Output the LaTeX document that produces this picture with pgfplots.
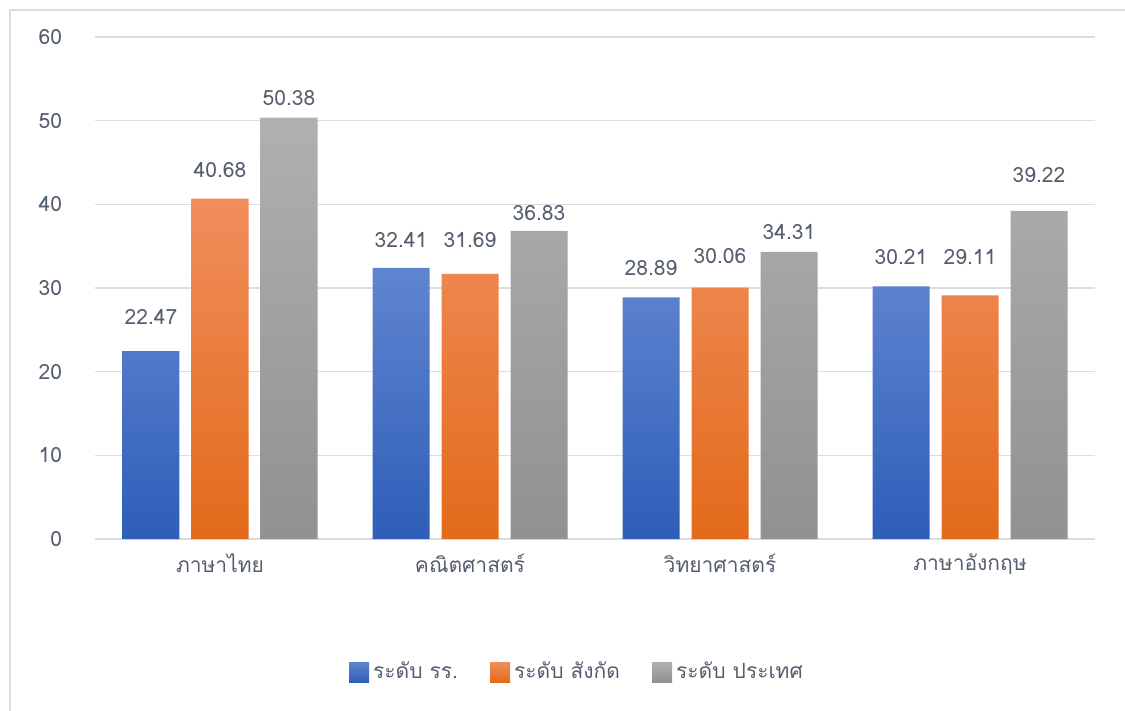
\documentclass[border=0pt]{standalone}
\usepackage{pgfplots}
\pgfplotsset{compat=1.18}
\usepackage{pgfplotstable}
\usepackage{fontspec}
\setmainfont[Script=Thai]{Loma}
\definecolor{textc}{RGB}{85,94,110}
\definecolor{gridc}{RGB}{217,221,226}
\definecolor{blueT}{RGB}{96,133,208}
\definecolor{blueB}{RGB}{46,94,184}
\definecolor{orT}{RGB}{240,142,92}
\definecolor{orB}{RGB}{227,106,26}
\definecolor{grT}{RGB}{176,176,176}
\definecolor{grB}{RGB}{145,145,145}
% x  value  label-offset(px)
\pgfplotstableread{
x y off
0 22.47 34
1 32.41 28
2 28.89 29
3 30.21 29
}\tblA
\pgfplotstableread{
x y off
0 40.68 29
1 31.69 34
2 30.06 31
3 29.11 38
}\tblB
\pgfplotstableread{
x y off
0 50.38 19
1 36.83 18
2 34.31 20
3 39.22 36
}\tblC
\begin{document}
\begin{tikzpicture}
\useasboundingbox (0,0) rectangle (562.5pt,-355.5pt);
\draw[gridc, line width=0.8pt] (5pt,-355.5pt) -- (5pt,-5pt) -- (562.5pt,-5pt);
\begin{axis}[
  at={(47.5pt,-269.5pt)}, anchor=south west,
  scale only axis, width=500pt, height=251pt,
  ymin=0, ymax=60, ytick={0,10,...,60},
  xmin=-0.5, xmax=3.5,
  xtick={0,1,2,3},
  xticklabels={ภาษาไทย,คณิตศาสตร์,วิทยาศาสตร์,ภาษาอังกฤษ},
  ybar=6pt, bar width=28.5pt,
  axis x line*=bottom,
  axis y line*=left,
  x axis line style={gridc, line width=0.8pt, -},
  y axis line style={draw=none},
  ymajorgrids, grid style={gridc, line width=0.8pt},
  major tick length=0pt,
  tick label style={font=\fontsize{10.5pt}{12pt}\selectfont, text=textc},
  /pgf/number format/assume math mode=true,
  yticklabel style={xshift=-13pt},
  xticklabel style={yshift=-4pt},
  nodes near coords,
  point meta=explicit symbolic,
  visualization depends on={\thisrow{off} \as \off},
  nodes near coords style={font=\fontsize{10.5pt}{12pt}\selectfont, text=textc, anchor=center, yshift=0.5*\off pt},
  legend style={at={(0.483,-0.265)}, anchor=center, draw=none, fill=none,
    legend columns=3, font=\fontsize{10.5pt}{12pt}\selectfont, text=textc,
    /tikz/every even column/.append style={column sep=14pt}},
  legend image code/.code={\fill[#1] (0pt,-5pt) rectangle (10pt,5pt);},
]
\addplot[draw=none, top color=blueT, bottom color=blueB] table[x=x, y=y, meta=y] {\tblA};
\addplot[draw=none, top color=orT, bottom color=orB] table[x=x, y=y, meta=y] {\tblB};
\addplot[draw=none, top color=grT, bottom color=grB] table[x=x, y=y, meta=y] {\tblC};
\legend{ระดับ รร.,ระดับ สังกัด,ระดับ ประเทศ}
\end{axis}
\end{tikzpicture}
\end{document}
